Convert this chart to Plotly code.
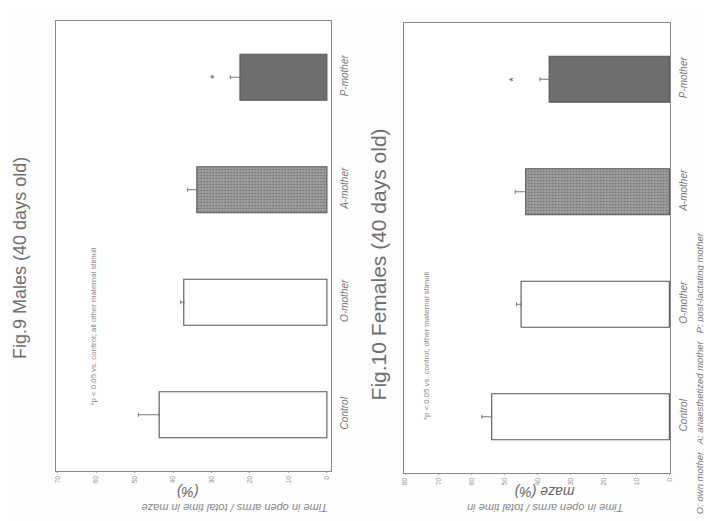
import plotly.graph_objects as go

# ---------------- data ----------------
categories = ["Control", "O-mother", "A-mother", "P-mother"]
male_values = [43.6, 37.2, 33.8, 22.6]
male_errors = [5.4, 0.8, 2.4, 2.5]
female_values = [53.8, 44.9, 43.5, 36.4]
female_errors = [3.0, 1.4, 3.2, 2.8]
male_ticks = [0, 10, 20, 30, 40, 50, 60, 70]
female_ticks = [0, 10, 20, 30, 40, 50, 60, 70, 80]
significant = [False, False, False, True]

W, H = 712, 521

def px_x(p):
    return p / W

def px_y(p):
    return 1 - p / H

fill_colors = ["#ffffff", "#ffffff", "#a2a2a2", "#6e6e6e"]
pat_shapes = ["", "", ".", ""]
pat_fg = ["#ffffff", "#ffffff", "#cdcdcd", "#6e6e6e"]
pat_bg = ["#ffffff", "#ffffff", "#959595", "#6e6e6e"]

fig = go.Figure()

def add_bars(values, errors, xa, ya):
    fig.add_trace(go.Bar(
        y=categories, x=values, orientation="h",
        xaxis=xa, yaxis=ya, width=0.41,
        marker=dict(color=fill_colors,
                    line=dict(color="#555555", width=1.1),
                    pattern=dict(shape=pat_shapes, fgcolor=pat_fg, bgcolor=pat_bg,
                                 size=3, solidity=0.3)),
        error_x=dict(type="data", array=errors, arrayminus=[0] * len(errors),
                     symmetric=False, color="#777777", thickness=1, width=2),
        showlegend=False,
    ))

add_bars(male_values, male_errors, "x", "y")
add_bars(female_values, female_errors, "x2", "y2")

tickfont = dict(family="Liberation Sans, Arial", size=7, color="#999999")
catfont = dict(family="Liberation Sans, Arial", size=10, color="#777777", style="italic")

common_x = dict(showgrid=False, zeroline=False, showline=True, mirror=True,
                linecolor="#888888", linewidth=1, ticks="outside", ticklen=1,
                tickcolor="#aaaaaa", tickangle=-90, tickfont=tickfont, fixedrange=True)
common_y = dict(showgrid=False, showline=True, mirror=True, linecolor="#888888",
                linewidth=1, side="right", ticks="", tickangle=-90, tickfont=catfont,
                ticklabelstandoff=4, categoryorder="array", categoryarray=categories,
                fixedrange=True)

fig.update_layout(
    width=W, height=H, margin=dict(l=0, r=0, t=0, b=0),
    paper_bgcolor="#fdfdfd", plot_bgcolor="#ffffff",
    xaxis=dict(domain=[px_x(45), px_x(322)], range=[70.5, -1], tickvals=male_ticks,
               anchor="y", **common_x),
    yaxis=dict(domain=[px_y(463), px_y(13)], anchor="x", **common_y),
    xaxis2=dict(domain=[px_x(396), px_x(664)], range=[80.3, -0.3], tickvals=female_ticks,
                anchor="y2", **common_x),
    yaxis2=dict(domain=[px_y(465), px_y(15)], anchor="x2", **common_y),
)

# significance asterisks
for cat, v, e, s in zip(categories, male_values, male_errors, significant):
    if s:
        fig.add_annotation(x=v + e + 4.5, y=cat, xref="x", yref="y", text="*",
                           showarrow=False, textangle=-90,
                           font=dict(size=9, color="#555555"))
for cat, v, e, s in zip(categories, female_values, female_errors, significant):
    if s:
        fig.add_annotation(x=v + e + 8.5, y=cat, xref="x2", yref="y2", text="*",
                           showarrow=False, textangle=-90,
                           font=dict(size=9, color="#555555"))

txt = dict(family="Liberation Sans, Arial", color="#666666")

def ann(x, y, text, size, angle, italic=False, color="#666666"):
    f = dict(txt, size=size, color=color)
    if italic:
        f["style"] = "italic"
    fig.add_annotation(x=px_x(x), y=px_y(y), xref="paper", yref="paper", text=text,
                       showarrow=False, textangle=angle, font=f,
                       xanchor="center", yanchor="middle")

# titles (rotated texts render ~10px right of the anchor, compensated)
ann(9, 250, "Fig.9 Males (40 days old)", 18, -90, color="#707070")
ann(370, 256, "Fig.10 Females (40 days old)", 21, -90, color="#707070")
# notes
ann(83, 318, "*p &lt; 0.05 vs. control; all other maternal stimuli", 7.8, -90, color="#888888")
ann(418, 338, "*p &lt; 0.05 vs. control; other maternal stimuli", 7.8, -90, color="#888888")
# footnote
ann(693, 365, "O: own mother   A: anaesthetized mother   P: post-lactating mother",
    9.5, -90, italic=True, color="#777777")
# axis titles (upside down in the scan)
ann(178, 484, "(%)", 14, 180, italic=True, color="#666666")
ann(225, 500, "Time in open arms / total time in maze", 11, 180, italic=True, color="#888888")
ann(537, 484, "maze (%)", 14, 180, italic=True, color="#666666")
ann(538, 500, "Time in open arms / total time in", 11, 180, italic=True, color="#888888")

fig.write_html("out.html")
